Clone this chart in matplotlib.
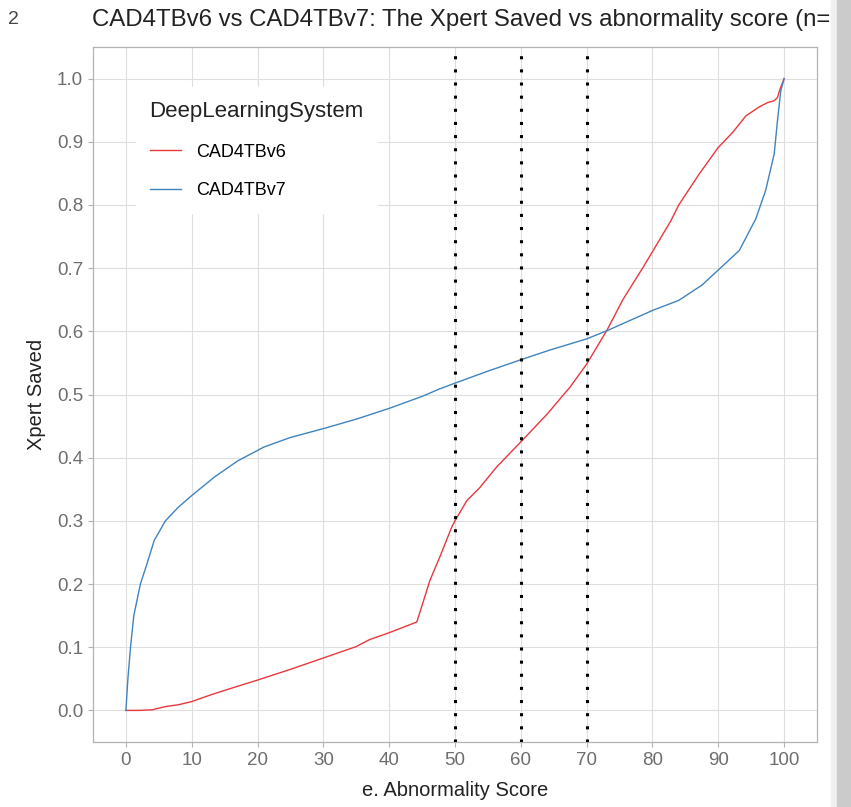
import matplotlib
matplotlib.use("Agg")
import matplotlib.pyplot as plt
from matplotlib.patches import Rectangle

plt.rcParams['font.family'] = ['Liberation Sans', 'DejaVu Sans']

# abnormality score vs share of Xpert tests saved
score_v6 = [0, 2, 4, 6, 8, 10, 13, 16, 20, 25, 30, 35, 37, 40, 42, 44.2, 46.2, 47.7,
            49.5, 50, 51.8, 53.8, 56.3, 60, 64, 67.5, 70, 73.1, 75.5, 78.5, 80, 82.8,
            84, 87.1, 90, 92.2, 94.2, 96.2, 97.5, 98.5, 99, 99.3, 100]
saved_v6 = [0, 0, 0.001, 0.006, 0.009, 0.014, 0.025, 0.035, 0.048, 0.065, 0.083, 0.101,
            0.112, 0.123, 0.131, 0.140, 0.206, 0.243, 0.290, 0.300, 0.332, 0.353, 0.385,
            0.425, 0.469, 0.512, 0.548, 0.602, 0.650, 0.700, 0.726, 0.775, 0.800, 0.849,
            0.891, 0.915, 0.941, 0.955, 0.962, 0.965, 0.970, 0.981, 1.0]

score_v7 = [0, 0.3, 0.7, 1.2, 2.2, 3.2, 4.3, 6.0, 8, 10, 13.4, 17, 21, 25, 30, 35, 40,
            45, 47.7, 50, 55, 60, 64.3, 70, 73.1, 80, 84, 87.5, 90, 93.2, 95.7, 97.2,
            98.5, 99, 99.5, 100]
saved_v7 = [0, 0.05, 0.10, 0.15, 0.20, 0.232, 0.269, 0.30, 0.322, 0.340, 0.369, 0.395,
            0.417, 0.432, 0.446, 0.461, 0.478, 0.497, 0.509, 0.518, 0.537, 0.555, 0.570,
            0.588, 0.601, 0.633, 0.649, 0.673, 0.697, 0.728, 0.778, 0.823, 0.881, 0.934,
            0.981, 1.0]

cutoffs = [50, 60, 70]
x_ticks = list(range(0, 101, 10))
y_ticks = [i / 10 for i in range(11)]

fig = plt.figure(figsize=(8.51, 8.07), dpi=100)
ax = fig.add_axes([93 / 851, 1 - 742 / 807, 724 / 851, 695 / 807])

ax.plot(score_v6, saved_v6, color='#E8383D', lw=1.0, label='CAD4TBv6', zorder=3)
ax.plot(score_v7, saved_v7, color='#3F84BF', lw=1.0, label='CAD4TBv7', zorder=3)
for c in cutoffs:
    ax.axvline(c, color='black', lw=2.2, linestyle=(0, (1, 3.3)), zorder=4)

ax.set_xlim(-5, 105)
ax.set_ylim(-0.05, 1.05)
ax.set_xticks(x_ticks)
ax.set_yticks(y_ticks)
ax.set_yticklabels([f'{v:.1f}' for v in y_ticks])
ax.grid(True, color='#DEDEDE', lw=0.8, zorder=0)
ax.set_axisbelow(True)
for s in ax.spines.values():
    s.set_color('#B3B3B3')
    s.set_linewidth(0.9)
ax.tick_params(colors='#B3B3B3', labelcolor='#6E6E6E', labelsize=13.5, length=3.6, width=0.8)

ax.set_xlabel('e. Abnormality Score', fontsize=14.5, color='#222222', labelpad=9)
ax.set_ylabel('Xpert Saved', fontsize=14.5, color='#222222', labelpad=8)

leg = ax.legend(title='DeepLearningSystem', loc='upper left',
                bbox_to_anchor=(0.047, 0.955), fontsize=13, title_fontsize=16,
                frameon=True, fancybox=False, edgecolor='white', facecolor='white',
                framealpha=1, handlelength=1.75, handletextpad=0.8, labelspacing=1.2,
                borderpad=0.75, alignment='left')
leg.set_zorder(5)
leg.get_title().set_color('#222222')

fig.text(92 / 851, 1 - 20 / 807, 'CAD4TBv6 vs CAD4TBv7: The Xpert Saved vs abnormality score (n=',
         fontsize=17.3, color='#222222', ha='left', va='center')
fig.text(8 / 851, 1 - 20 / 807, '2', fontsize=14, color='#444444', ha='left', va='center')

# scrollbar strip on the right edge of the screenshot
fig.patches.append(Rectangle((831 / 851, 0), 6 / 851, 1, transform=fig.transFigure,
                             color='#EEF0F2', zorder=10))
fig.patches.append(Rectangle((837 / 851, 0), 14 / 851, 1, transform=fig.transFigure,
                             color='#CBCBCB', zorder=10))

fig.savefig('out.png', dpi=100)
